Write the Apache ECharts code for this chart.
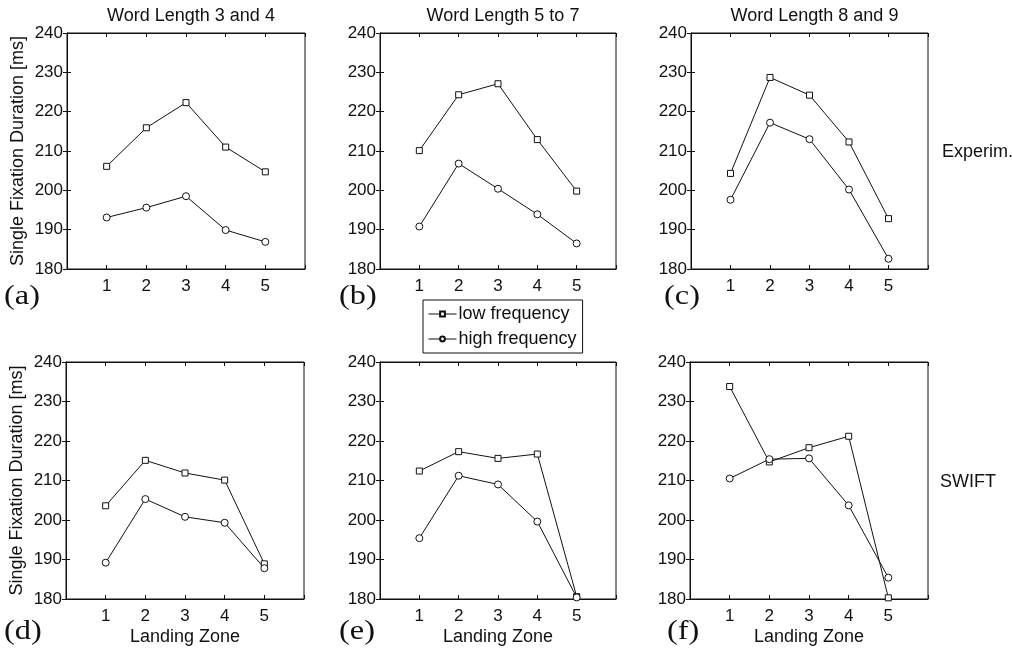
<!DOCTYPE html>
<html>
<head>
<meta charset="utf-8">
<script src="https://cdn.jsdelivr.net/npm/echarts@6/dist/echarts.min.js"></script>
<style>
html,body{margin:0;padding:0;background:#fff;}
#chart{width:1012px;height:649px;}
</style>
</head>
<body>
<div id="chart"></div>
<script>
// ---- data ----
const zones = [1, 2, 3, 4, 5];
const xTickLabels = ['1', '2', '3', '4', '5'];
const panelTitles = ['Word Length 3 and 4', 'Word Length 5 to 7', 'Word Length 8 and 9'];
const panelLetters = ['(a)', '(b)', '(c)', '(d)', '(e)', '(f)'];
const rowLabels = ['Experim.', 'SWIFT'];
const seriesNames = ['low frequency', 'high frequency'];

const lowA  = [206.1, 215.9, 222.3, 211.0, 204.7];
const highA = [193.1, 195.6, 198.5, 189.9, 186.9];
const lowB  = [210.1, 224.3, 227.1, 212.9, 199.8];
const highB = [190.8, 206.8, 200.4, 193.9, 186.5];
const lowC  = [204.3, 228.7, 224.2, 212.3, 192.8];
const highC = [197.6, 217.2, 213.0, 200.2, 182.6];
const lowD  = [203.6, 215.1, 211.9, 210.1, 188.9];
const highD = [189.2, 205.3, 200.8, 199.3, 187.8];
const lowE  = [212.4, 217.3, 215.6, 216.7, 180.6];
const highE = [195.4, 211.2, 209.0, 199.6, 180.4];
const lowF  = [233.8, 214.7, 218.3, 221.2, 180.3];
const highF = [210.5, 215.4, 215.6, 203.7, 185.4];

const lowAll = [lowA, lowB, lowC, lowD, lowE, lowF];
const highAll = [highA, highB, highC, highD, highE, highF];

// ---- layout ----
const FONT = '"Liberation Sans", Arial, Helvetica, sans-serif';
const SERIF = '"Liberation Serif", "Times New Roman", serif';
const gridPos = [
  {left: 67, top: 33, width: 238, height: 236},
  {left: 380, top: 33, width: 236, height: 236},
  {left: 691, top: 33, width: 237, height: 236},
  {left: 66, top: 362, width: 238, height: 237},
  {left: 380, top: 362, width: 236, height: 237},
  {left: 690, top: 362, width: 238, height: 237}
];

const grids = [], xAxes = [], yAxes = [], series = [];
gridPos.forEach((g, i) => {
  grids.push(Object.assign({show: true, borderColor: '#111', borderWidth: 1, backgroundColor: '#fff'}, g));
  const row = i < 3 ? 0 : 1;
  xAxes.push({
    gridIndex: i, type: 'value', min: 0, max: 6, interval: 1, position: 'bottom',
    name: row === 1 ? 'Landing Zone' : '', nameLocation: 'middle', nameGap: 29,
    nameTextStyle: {fontFamily: FONT, fontSize: 18, color: '#111'},
    axisLine: {show: true, lineStyle: {color: '#111', width: 1}},
    axisTick: {show: true, inside: true, length: 4, lineStyle: {color: '#111'}},
    axisLabel: {show: true, margin: 9, fontFamily: FONT, fontSize: 17, color: '#111',
      formatter: v => (v >= 1 && v <= 5) ? xTickLabels[v - 1] : ''},
    splitLine: {show: false}
  });
  xAxes.push({
    gridIndex: i, type: 'value', min: 0, max: 6, interval: 1, position: 'top',
    axisLine: {show: true, lineStyle: {color: '#111', width: 1}},
    axisTick: {show: true, inside: true, length: 4, lineStyle: {color: '#111'}},
    axisLabel: {show: false}, splitLine: {show: false}
  });
  yAxes.push({
    gridIndex: i, type: 'value', min: 180, max: 240, interval: 10, position: 'left',
    name: (i % 3 === 0) ? 'Single Fixation Duration [ms]' : '',
    nameLocation: 'middle', nameRotate: 90, nameGap: 40,
    nameTextStyle: {fontFamily: FONT, fontSize: 18, color: '#111'},
    axisLine: {show: true, lineStyle: {color: '#111', width: 1}},
    axisTick: {show: true, inside: true, length: 4, lineStyle: {color: '#111'}},
    axisLabel: {show: true, margin: 4, fontFamily: FONT, fontSize: 17, color: '#111'},
    splitLine: {show: false}
  });
  yAxes.push({
    gridIndex: i, type: 'value', min: 180, max: 240, interval: 10, position: 'right',
    axisLine: {show: true, lineStyle: {color: '#111', width: 1}},
    axisTick: {show: true, inside: true, length: 4, lineStyle: {color: '#111'}},
    axisLabel: {show: false}, splitLine: {show: false}
  });

  const mk = (name, arr, symbol, size) => ({
    name: name, type: 'line', xAxisIndex: i * 2, yAxisIndex: i * 2,
    data: zones.map((z, k) => [z, arr[k]]),
    symbol: symbol, symbolSize: size, showSymbol: true,
    lineStyle: {color: '#111', width: 1},
    itemStyle: {color: '#fff', borderColor: '#111', borderWidth: 1},
    emphasis: {disabled: true}, animation: false, z: 3
  });
  series.push(mk(seriesNames[0], lowAll[i], 'rect', 6));
  series.push(mk(seriesNames[1], highAll[i], 'circle', 7));
});

const titles = panelTitles.map((t, i) => ({
  text: t, left: gridPos[i].left + gridPos[i].width / 2, top: 2, textAlign: 'center',
  textStyle: {fontFamily: FONT, fontSize: 18, fontWeight: 'normal', color: '#111'}
}));

const graphics = [];
const letterPos = [[4, 297], [339, 297], [664, 297], [4, 632], [339, 632], [667, 632]];
panelLetters.forEach((t, i) => {
  graphics.push({type: 'text', x: letterPos[i][0], y: letterPos[i][1], scaleX: 1.2,
    style: {text: t, font: '27px ' + SERIF, fill: '#111', textVerticalAlign: 'middle'}});
});
graphics.push({type: 'text', left: 942, top: 143, style: {text: rowLabels[0], font: '18px ' + FONT, fill: '#111'}});
graphics.push({type: 'text', left: 940, top: 473, style: {text: rowLabels[1], font: '18px ' + FONT, fill: '#111'}});

const option = {
  backgroundColor: '#fff',
  animation: false,
  title: titles,
  grid: grids,
  xAxis: xAxes,
  yAxis: yAxes,
  legend: {
    data: seriesNames, orient: 'vertical', left: 423, top: 300,
    itemWidth: 28, itemHeight: 6, itemGap: 7,
    padding: [5, 6, 5, 5], borderColor: '#111', borderWidth: 1, backgroundColor: '#fff',
    lineStyle: {width: 1, color: '#111'},
    textStyle: {fontFamily: FONT, fontSize: 18, color: '#111', padding: [0, 0, 0, -3]},
    selectedMode: false
  },
  series: series,
  graphic: graphics
};

const chart = echarts.init(document.getElementById('chart'), null, {renderer: 'canvas'});
chart.setOption(option);
</script>
</body>
</html>
